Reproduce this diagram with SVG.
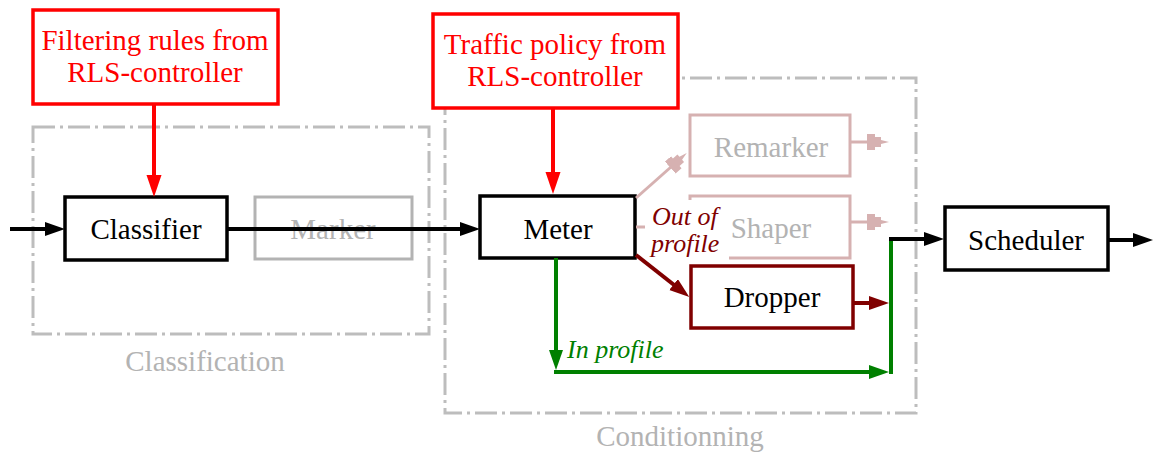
<svg xmlns="http://www.w3.org/2000/svg" width="1154" height="452" viewBox="0 0 1154 452">
<defs>
<marker id="mb" markerUnits="userSpaceOnUse" markerWidth="22" markerHeight="16" refX="12" refY="7" orient="auto"><path d="M0,0 L20,7 L0,14 z" fill="#000"/></marker>
<marker id="mr" markerUnits="userSpaceOnUse" markerWidth="24" markerHeight="18" refX="14" refY="7.5" orient="auto"><path d="M0,0 L22,7.5 L0,15 z" fill="#ff0000"/></marker>
<marker id="md" markerUnits="userSpaceOnUse" markerWidth="22" markerHeight="16" refX="12" refY="7" orient="auto"><path d="M0,0 L20,7 L0,14 z" fill="#800000"/></marker>
<marker id="mg" markerUnits="userSpaceOnUse" markerWidth="22" markerHeight="16" refX="12" refY="7" orient="auto"><path d="M0,0 L20,7 L0,14 z" fill="#008000"/></marker>
<marker id="mp" markerUnits="userSpaceOnUse" markerWidth="24" markerHeight="18" refX="13" refY="8" orient="auto"><path d="M0,0 L8,0 L8,3 L14,3 L14,6 L22,8 L14,10 L14,13 L8,13 L8,16 L0,16 z" fill="#d6b1b1"/></marker>
</defs>

<g id="classification-group">
<rect x="33" y="127" width="396" height="207" fill="none" stroke="#bdbdbd" stroke-width="3" stroke-dasharray="22 5 3 5"/>
<text style="font-family:Liberation Serif;font-size:29px" text-anchor="middle" fill="#b3b3b3" x="205" y="371">Classification</text>
</g>
<g id="conditionning-group">
<rect x="445" y="78" width="471" height="335" fill="none" stroke="#bdbdbd" stroke-width="3" stroke-dasharray="22 5 3 5"/>
<text style="font-family:Liberation Serif;font-size:29px" text-anchor="middle" fill="#b3b3b3" x="680" y="446">Conditionning</text>
</g>

<g id="filtering-rules">
<rect x="33" y="10" width="245" height="94" fill="#fff" stroke="#ff0000" stroke-width="3.5"/>
<text style="font-family:Liberation Serif;font-size:29px" text-anchor="middle" x="155" y="50" fill="#ff0000">Filtering rules from</text>
<text style="font-family:Liberation Serif;font-size:29px" text-anchor="middle" x="155" y="82" fill="#ff0000">RLS-controller</text>
</g>
<g id="traffic-policy">
<rect x="433" y="14" width="245" height="94" fill="#fff" stroke="#ff0000" stroke-width="3.5"/>
<text style="font-family:Liberation Serif;font-size:29px" text-anchor="middle" x="555" y="54" fill="#ff0000">Traffic policy from</text>
<text style="font-family:Liberation Serif;font-size:29px" text-anchor="middle" x="555" y="86" fill="#ff0000">RLS-controller</text>
</g>

<g id="classifier">
<rect x="65" y="197" width="162" height="63" fill="#fff" stroke="#000" stroke-width="3.5"/>
<text style="font-family:Liberation Serif;font-size:29px" text-anchor="middle" x="146" y="239">Classifier</text>
</g>
<g id="marker">
<rect x="255" y="197" width="157" height="62" fill="none" stroke="#b3b3b3" stroke-width="3"/>
<text style="font-family:Liberation Serif;font-size:29px" text-anchor="middle" fill="#b3b3b3" x="333" y="239">Marker</text>
</g>
<g id="meter">
<rect x="480" y="196" width="155" height="62" fill="#fff" stroke="#000" stroke-width="3.5"/>
<text style="font-family:Liberation Serif;font-size:29px" text-anchor="middle" x="558" y="239">Meter</text>
</g>
<g id="remarker">
<rect x="690" y="115" width="160" height="61" fill="none" stroke="#d6b1b1" stroke-width="3"/>
<text style="font-family:Liberation Serif;font-size:29px" text-anchor="middle" fill="#b3b3b3" x="771" y="157">Remarker</text>
</g>
<g id="shaper">
<rect x="690" y="196" width="160" height="62" fill="none" stroke="#d6b1b1" stroke-width="3"/>
<text style="font-family:Liberation Serif;font-size:29px" text-anchor="middle" fill="#b3b3b3" x="771" y="238">Shaper</text>
</g>

<g id="connectors" fill="none">
<path stroke="#000" stroke-width="4" marker-end="url(#mb)" d="M10,229 H57"/>
<path stroke="#000" stroke-width="4" marker-end="url(#mb)" d="M227,229 H472"/>
<path stroke="#ff0000" stroke-width="4" marker-end="url(#mr)" d="M154,104 V189"/>
<path stroke="#ff0000" stroke-width="4" marker-end="url(#mr)" d="M553,108 V186"/>
<path stroke="#d6b1b1" stroke-width="3" marker-end="url(#mp)" d="M636,198 L680,159"/>
<path stroke="#d6b1b1" stroke-width="3" marker-end="url(#mp)" d="M850,142 H880"/>
<path stroke="#d6b1b1" stroke-width="3" marker-end="url(#mp)" d="M850,222 H880"/>
<path stroke="#d6b1b1" stroke-width="3" d="M636,227 H690"/>
<rect x="645" y="200" width="84" height="64" fill="#fff"/>
<path stroke="#800000" stroke-width="4" marker-end="url(#md)" d="M636,255 L683,292"/>
<path stroke="#800000" stroke-width="4" marker-end="url(#md)" d="M853,303 H881"/>
<path stroke="#008000" stroke-width="4" marker-end="url(#mg)" d="M556,258 V362"/>
<path stroke="#008000" stroke-width="4" marker-end="url(#mg)" d="M554,372 H881"/>
<path stroke="#008000" stroke-width="4" d="M891,374 V237"/>
<path stroke="#000" stroke-width="4" marker-end="url(#mb)" d="M889,239 H936"/>
<path stroke="#000" stroke-width="4" marker-end="url(#mb)" d="M1108,240 H1145"/>
</g>

<g id="out-of-profile-label">
<text style="font-family:Liberation Serif;font-size:26px;font-style:italic" x="652" y="225" fill="#800000">Out of</text>
<text style="font-family:Liberation Serif;font-size:26px;font-style:italic" x="651" y="252" fill="#800000">profile</text>
</g>
<g id="in-profile-label">
<text style="font-family:Liberation Serif;font-size:26px;font-style:italic" x="567" y="358" fill="#008000">In profile</text>
</g>

<g id="dropper">
<rect x="691" y="266" width="162" height="62" fill="#fff" stroke="#800000" stroke-width="3.5"/>
<text style="font-family:Liberation Serif;font-size:29px" text-anchor="middle" x="772" y="307">Dropper</text>
</g>
<g id="scheduler">
<rect x="945" y="207" width="163" height="63" fill="#fff" stroke="#000" stroke-width="3.5"/>
<text style="font-family:Liberation Serif;font-size:29px" text-anchor="middle" x="1026" y="250">Scheduler</text>
</g>
</svg>
